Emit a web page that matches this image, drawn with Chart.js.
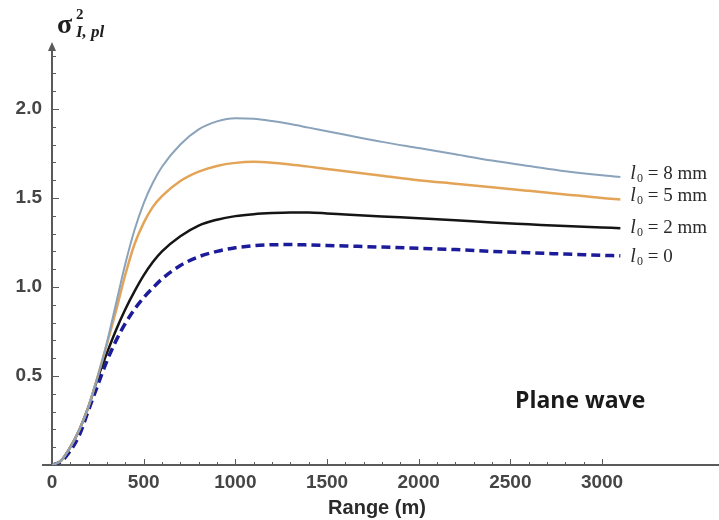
<!DOCTYPE html>
<html>
<head>
<meta charset="utf-8">
<script src="https://cdn.jsdelivr.net/npm/chart.js@4.4.1/dist/chart.umd.min.js"></script>
<style>
  html, body { margin: 0; padding: 0; background: #fff; }
</style>
</head>
<body>
<canvas id="c" width="719" height="520"></canvas>
<script>
// range in metres
const ranges = [0, 50, 100, 150, 200, 250, 300, 350, 400, 450, 500, 550, 600, 700, 800, 900,
  1000, 1100, 1200, 1300, 1400, 1500, 1600, 1800, 2000, 2200, 2400, 2600, 2800, 3000, 3100];

// scintillation index, plane wave
const sig8mm = [0, 0.025, 0.10, 0.20, 0.33, 0.50, 0.69, 0.91, 1.13, 1.32, 1.47, 1.585, 1.675, 1.80, 1.885, 1.93,
  1.948, 1.945, 1.932, 1.915, 1.895, 1.875, 1.855, 1.815, 1.78, 1.745, 1.71, 1.68, 1.65, 1.627, 1.618];
const sig5mm = [0, 0.025, 0.10, 0.20, 0.33, 0.50, 0.68, 0.87, 1.07, 1.24, 1.36, 1.45, 1.51, 1.595, 1.648, 1.68,
  1.697, 1.703, 1.698, 1.688, 1.676, 1.663, 1.65, 1.625, 1.60, 1.58, 1.56, 1.54, 1.52, 1.50, 1.492];
const sig2mm = [0, 0.025, 0.10, 0.20, 0.33, 0.49, 0.63, 0.76, 0.875, 0.975, 1.065, 1.14, 1.20, 1.285, 1.345, 1.378,
  1.398, 1.409, 1.415, 1.418, 1.418, 1.413, 1.407, 1.396, 1.386, 1.375, 1.362, 1.352, 1.342, 1.334, 1.33];
const sig0 = [0, 0.02, 0.08, 0.17, 0.31, 0.45, 0.585, 0.70, 0.795, 0.875, 0.94, 0.995, 1.045, 1.12, 1.17, 1.20,
  1.22, 1.232, 1.237, 1.238, 1.236, 1.233, 1.23, 1.224, 1.217, 1.21, 1.20, 1.192, 1.185, 1.178, 1.175];

const seriesLabels = ['8 mm', '5 mm', '2 mm', '0'];
const xTicks = [0, 500, 1000, 1500, 2000, 2500, 3000];
const yTicks = [0.5, 1.0, 1.5, 2.0];

const axisColor = '#5a5a5a';
const pts = (ys) => ranges.map((x, i) => ({ x, y: ys[i] }));

const axesPlugin = {
  id: 'axes',
  beforeDatasetsDraw(chart) {
    const { ctx, scales: { x, y }, chartArea } = chart;
    const x0 = x.getPixelForValue(0);
    const y0 = y.getPixelForValue(0);
    ctx.save();
    ctx.strokeStyle = axisColor;
    ctx.fillStyle = axisColor;
    ctx.lineWidth = 2;
    ctx.beginPath();
    ctx.moveTo(x0 - 10, y0);
    ctx.lineTo(chartArea.right, y0);
    ctx.moveTo(x0, y0);
    ctx.lineTo(x0, chartArea.top + 6);
    ctx.stroke();
    // arrow
    ctx.beginPath();
    ctx.moveTo(x0, chartArea.top);
    ctx.lineTo(x0 - 4, chartArea.top + 9);
    ctx.lineTo(x0 + 4, chartArea.top + 9);
    ctx.closePath();
    ctx.fill();
    // tick marks
    ctx.lineWidth = 1;
    ctx.beginPath();
    for (let v = 100; v <= 3000; v += 100) {
      const px = Math.round(x.getPixelForValue(v)) + 0.5;
      const len = v % 500 === 0 ? 6 : 3;
      ctx.moveTo(px, y0);
      ctx.lineTo(px, y0 - len);
    }
    for (let k = 1; k <= 23; k++) {
      const py = Math.round(y.getPixelForValue(k / 10)) + 0.5;
      const len = k % 5 === 0 ? 7 : 4;
      ctx.moveTo(x0, py);
      ctx.lineTo(x0 + len, py);
    }
    ctx.stroke();
    ctx.restore();
  },
  afterDraw(chart) {
    const { ctx, scales: { x, y } } = chart;
    ctx.save();
    ctx.fillStyle = '#1e1e1e';

    // y-axis title sigma^2_{I,pl}
    ctx.font = 'bold 28px "Liberation Serif"';
    ctx.fillText('σ', 57, 33);
    ctx.font = 'bold 15px "Liberation Serif"';
    ctx.fillText('2', 76, 19);
    ctx.font = 'italic bold 17px "Liberation Serif"';
    ctx.fillText('I, pl', 76, 37);

    // x-axis title
    ctx.font = 'bold 20px "Liberation Sans"';
    ctx.textAlign = 'center';
    ctx.fillStyle = '#2a2a2a';
    ctx.fillText('Range (m)', 377, 514);

    ctx.textAlign = 'left';
    ctx.font = 'bold 23px "Open Sans"';
    ctx.fillStyle = '#1a1a1a';
    ctx.fillText('Plane wave', 515, 408);

    // curve labels at the end of each line
    const dy = [2, 2, 5, 6];
    chart.data.datasets.forEach((ds, i) => {
      const last = ds.data[ds.data.length - 1];
      const px = x.getPixelForValue(last.x) + 10;
      const py = y.getPixelForValue(last.y) + dy[i];
      ctx.fillStyle = '#2a2a2a';
      ctx.font = 'italic 20px "Liberation Serif"';
      ctx.fillText('l', px, py);
      let cx = px + ctx.measureText('l').width + 1;
      ctx.font = '12px "Liberation Serif"';
      ctx.fillText('0', cx, py + 3);
      cx += ctx.measureText('0').width;
      ctx.font = '19px "Liberation Serif"';
      ctx.fillText(' = ' + seriesLabels[i], cx, py);
    });
    ctx.restore();
  }
};

const tickFont = { family: '"Liberation Sans"', size: 19, weight: 'bold' };

new Chart(document.getElementById('c'), {
  type: 'line',
  data: {
    datasets: [
      { data: pts(sig8mm), borderColor: '#8aa3bb', borderWidth: 2 },
      { data: pts(sig5mm), borderColor: '#e3a457', borderWidth: 2.5 },
      { data: pts(sig2mm), borderColor: '#151515', borderWidth: 2.5 },
      { data: pts(sig0), borderColor: '#1c1c9a', borderWidth: 3.5, borderDash: [9, 5] },
    ],
  },
  options: {
    responsive: false,
    animation: false,
    devicePixelRatio: 1,
    parsing: false,
    elements: {
      point: { radius: 0 },
      line: { cubicInterpolationMode: 'monotone', fill: false },
    },
    layout: { padding: { top: 42, right: 0, left: 0, bottom: 0 } },
    scales: {
      x: {
        type: 'linear',
        min: 0,
        max: 3638,
        grid: { display: false, drawTicks: false },
        border: { display: false },
        afterBuildTicks: (s) => { s.ticks = xTicks.map(v => ({ value: v })); },
        afterFit: (s) => { s.height = 55; },
        ticks: { font: tickFont, color: '#454545', padding: 6, maxRotation: 0, autoSkip: false,
          callback: (v) => String(v) },
      },
      y: {
        type: 'linear',
        min: 0,
        max: 2.376,
        grid: { display: false, drawTicks: false },
        border: { display: false },
        afterBuildTicks: (s) => { s.ticks = yTicks.map(v => ({ value: v })); },
        afterFit: (s) => { s.width = 52; },
        ticks: { font: tickFont, color: '#454545', padding: 10, callback: (v) => v.toFixed(1) },
      },
    },
    plugins: {
      legend: { display: false },
      tooltip: { enabled: false },
    },
  },
  plugins: [axesPlugin],
});
</script>
</body>
</html>
